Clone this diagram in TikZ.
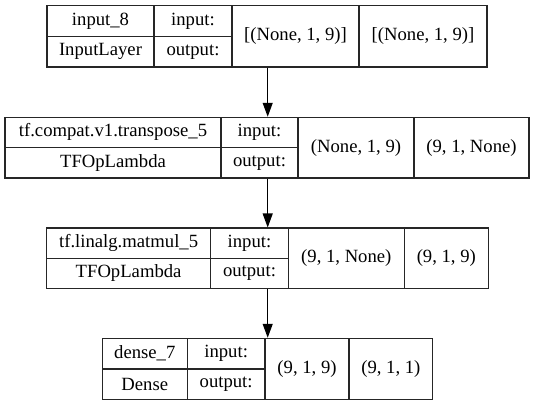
\documentclass[tikz,border=0pt]{standalone}
\usepackage{fontspec}
\setmainfont{Liberation Serif}
\usetikzlibrary{arrows.meta}
\tikzset{
  cell/.style={draw=black!85, line width=1.1pt, inner sep=0pt, font=\fontsize{18.67}{22}\selectfont},
  arr/.style={draw=black, line width=1.1pt, -{Triangle[length=14pt,width=10pt]}}
}
\newcommand\mycell[6]{%
  \node[cell, minimum width={(#3-#2)*1pt}, minimum height={(#5-#4)*1pt}] (#1) at ({(#2+#3)/2},{-(#4+#5)/2}) {#6};}
\begin{document}
\begin{tikzpicture}[x=1pt,y=1pt]
\useasboundingbox[fill=white] (0,0) rectangle (535,-405);
% layer 1
\mycell{l1name}{47}{154}{5.5}{36.5}{input\_8}
\mycell{l1type}{47}{154}{36.5}{67}{InputLayer}
\mycell{l1inlab}{154}{232}{5.5}{36.5}{input:}
\mycell{l1outlab}{154}{232}{36.5}{67}{output:}
\mycell{l1in}{232}{359}{5.5}{67}{[(None, 1, 9)]}
\mycell{l1out}{359}{487}{5.5}{67}{[(None, 1, 9)]}
% layer 2
\mycell{l2name}{5}{221}{117.3}{147.5}{tf.compat.v1.transpose\_5}
\mycell{l2type}{5}{221}{147.5}{178}{TFOpLambda}
\mycell{l2inlab}{221}{298}{117.3}{147.5}{input:}
\mycell{l2outlab}{221}{298}{147.5}{178}{output:}
\mycell{l2in}{298}{414}{117.3}{178}{(None, 1, 9)}
\mycell{l2out}{414}{529}{117.3}{178}{(9, 1, None)}
% layer 3
\mycell{l3name}{46.5}{210.7}{228}{258.3}{tf.linalg.matmul\_5}
\mycell{l3type}{46.5}{210.7}{258.3}{288.5}{TFOpLambda}
\mycell{l3inlab}{210.7}{288.3}{228}{258.3}{input:}
\mycell{l3outlab}{210.7}{288.3}{258.3}{288.5}{output:}
\mycell{l3in}{288.3}{404.3}{228}{288.5}{(9, 1, None)}
\mycell{l3out}{404.3}{488.3}{228}{288.5}{(9, 1, 9)}
% layer 4
\mycell{l4name}{102.3}{187.3}{338.3}{369}{dense\_7}
\mycell{l4type}{102.3}{187.3}{369}{399.3}{Dense}
\mycell{l4inlab}{187.3}{265}{338.3}{369}{input:}
\mycell{l4outlab}{187.3}{265}{369}{399.3}{output:}
\mycell{l4in}{265}{349}{338.3}{399.3}{(9, 1, 9)}
\mycell{l4out}{349}{432.7}{338.3}{399.3}{(9, 1, 1)}
% connectors
\coordinate (ax) at (267.7,0);
\draw[arr] (l1in.south -| ax) -- (l2inlab.north -| ax);
\draw[arr] (l2outlab.south -| ax) -- (l3inlab.north -| ax);
\draw[arr] (l3outlab.south -| ax) -- (l4in.north -| ax);
\end{tikzpicture}
\end{document}
